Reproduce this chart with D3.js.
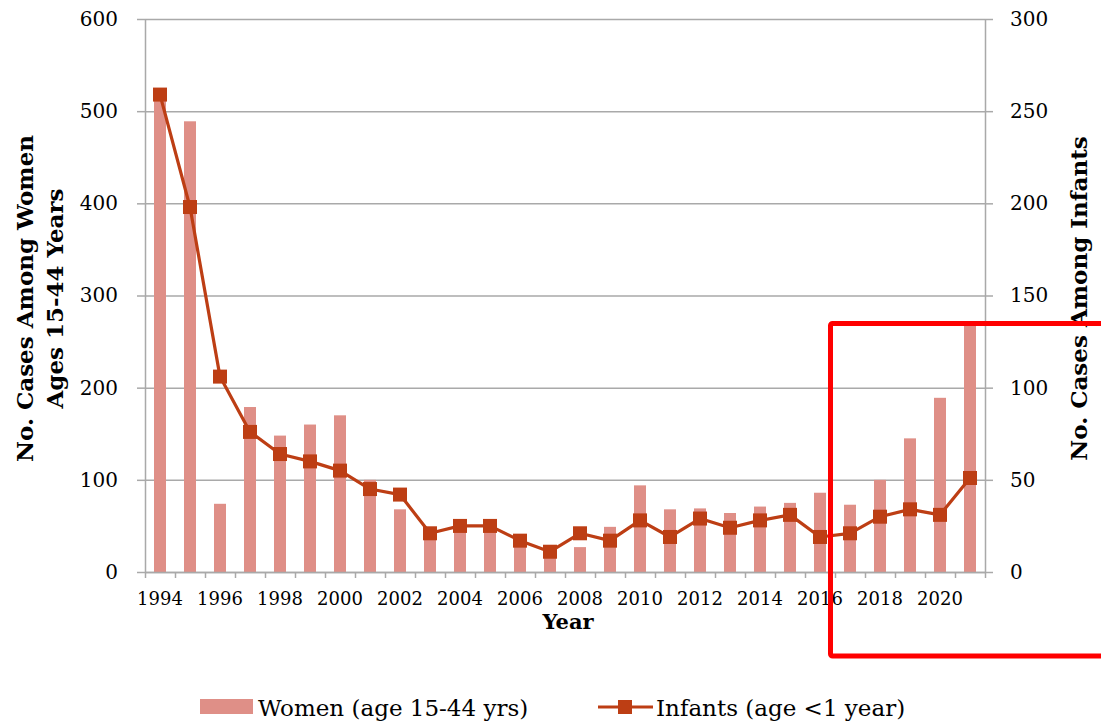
<!DOCTYPE html>
<html>
<head>
<meta charset="utf-8">
<script src="https://cdn.jsdelivr.net/npm/d3@7.9.0/dist/d3.min.js"></script>
<style>
  body { margin: 0; background: #fff; }
  svg { display: block; }
  .serif { font-family: "DejaVu Serif", serif; }
</style>
</head>
<body>
<div id="chart"></div>
<script>
const years = d3.range(1994, 2022).map(String);

// cases among women 15-44 (left axis)
const women = [515, 489, 74, 179, 148, 160, 170, 100, 68, 48,
  50, 50, 29, 18, 27, 49, 94, 68, 69, 64,
  71, 75, 86, 73, 100, 145, 189, 270];

// cases among infants <1 year (right axis)
const infants = [259, 198, 106, 76, 64, 60, 55, 45, 42, 21,
  25, 25, 17, 11, 21, 17, 28, 19, 29, 24,
  28, 31, 19, 21, 30, 34, 31, 51];

const leftTicks = [0, 100, 200, 300, 400, 500, 600];
const rightTicks = [0, 50, 100, 150, 200, 250, 300];
const yearLabels = years.filter((d, i) => i % 2 === 0);

const seriesNames = ['Women (age 15-44 yrs)', 'Infants (age <1 year)'];
const leftTitle = ['No. Cases Among Women', 'Ages 15-44 Years'];
const rightTitle = 'No. Cases Among Infants';
const xTitle = 'Year';

const barColor = '#df8f87';
const lineColor = '#bd3e14';
const gridColor = '#a9a9a9';

const width = 1101;
const height = 723;
const margin = { top: 19, right: 116, bottom: 151, left: 145 };

const usableArea = {
  top: margin.top,
  right: width - margin.right,
  bottom: height - margin.bottom,
  left: margin.left,
};

const svg = d3
  .select('#chart')
  .append('svg')
  .attr('width', width)
  .attr('height', height);

svg.append('rect').attr('width', width).attr('height', height).attr('fill', '#fff');

const xScale = d3.scaleBand().domain(years).range([usableArea.left, usableArea.right]);
// same range, used only for tick marks on the band edges
const xEdge = d3.scaleLinear().domain([1994, 2022]).range([usableArea.left, usableArea.right]);
const yLeft = d3.scaleLinear().domain([0, 600]).range([usableArea.bottom, usableArea.top]);
const yRight = d3.scaleLinear().domain([0, 300]).range([usableArea.bottom, usableArea.top]);

// gridlines
svg
  .append('g')
  .attr('class', 'gridlines')
  .attr('transform', `translate(${usableArea.left}, 0)`)
  .call(d3.axisLeft(yLeft).tickValues(leftTicks).tickSize(-(usableArea.right - usableArea.left)).tickFormat(''))
  .call((g) => g.select('.domain').remove())
  .call((g) => g.selectAll('line').attr('stroke', gridColor).attr('stroke-width', 1.5));

// bars
const barW = xScale.bandwidth() * 0.4;
svg
  .append('g')
  .attr('class', 'bars')
  .selectAll('rect')
  .data(years)
  .join('rect')
  .attr('x', (d) => xScale(d) + xScale.bandwidth() / 2 - barW / 2)
  .attr('y', (d, i) => yLeft(women[i]))
  .attr('width', barW)
  .attr('height', (d, i) => yLeft(0) - yLeft(women[i]))
  .attr('fill', barColor);

// axes
function styleAxis(g) {
  g.select('.domain').attr('stroke', gridColor).attr('stroke-width', 1.5);
  g.selectAll('.tick line').attr('stroke', gridColor).attr('stroke-width', 1.5);
  g.selectAll('text').attr('fill', '#000').attr('font-family', '"DejaVu Serif", serif');
}

svg
  .append('g')
  .attr('transform', `translate(${usableArea.left}, 0)`)
  .call(d3.axisLeft(yLeft).tickValues(leftTicks).tickSize(8).tickSizeOuter(0).tickPadding(19))
  .call(styleAxis)
  .call((g) => g.selectAll('text').attr('font-size', 20));

svg
  .append('g')
  .attr('transform', `translate(${usableArea.right}, 0)`)
  .call(d3.axisRight(yRight).tickValues(rightTicks).tickSize(8).tickSizeOuter(0).tickPadding(17))
  .call(styleAxis)
  .call((g) => g.selectAll('text').attr('font-size', 20));

svg
  .append('g')
  .attr('transform', `translate(0, ${usableArea.bottom})`)
  .call(d3.axisBottom(xEdge).tickValues(d3.range(1994, 2023)).tickSize(6).tickSizeOuter(0).tickFormat(''))
  .call(styleAxis);

svg
  .append('g')
  .attr('transform', `translate(0, ${usableArea.bottom})`)
  .call(d3.axisBottom(xScale).tickValues(yearLabels).tickSize(0).tickPadding(20))
  .call((g) => g.select('.domain').remove())
  .call(styleAxis)
  .call((g) => g.selectAll('text').attr('font-size', 18));

// infants line
const line = d3
  .line()
  .x((d, i) => xScale(years[i]) + xScale.bandwidth() / 2)
  .y((d) => yRight(d));

svg
  .append('path')
  .datum(infants)
  .attr('d', line)
  .attr('fill', 'none')
  .attr('stroke', lineColor)
  .attr('stroke-width', 3.2)
  .attr('stroke-linejoin', 'round');

const mk = 14;
svg
  .append('g')
  .attr('class', 'markers')
  .selectAll('rect')
  .data(infants)
  .join('rect')
  .attr('x', (d, i) => xScale(years[i]) + xScale.bandwidth() / 2 - mk / 2)
  .attr('y', (d) => yRight(d) - mk / 2)
  .attr('width', mk)
  .attr('height', mk)
  .attr('fill', lineColor);

// titles
svg
  .append('text')
  .attr('class', 'serif')
  .attr('x', (usableArea.left + usableArea.right) / 2 + 3)
  .attr('y', 629)
  .attr('text-anchor', 'middle')
  .attr('font-size', 21)
  .attr('font-weight', 'bold')
  .text(xTitle);

const midY = (usableArea.top + usableArea.bottom) / 2 + 3;
leftTitle.forEach((t, i) => {
  svg
    .append('text')
    .attr('class', 'serif')
    .attr('transform', `translate(${33 + i * 30}, ${midY}) rotate(-90)`)
    .attr('text-anchor', 'middle')
    .attr('font-size', 23)
    .attr('font-weight', 'bold')
    .text(t);
});

svg
  .append('text')
  .attr('class', 'serif')
  .attr('transform', `translate(1087, ${midY}) rotate(-90)`)
  .attr('text-anchor', 'middle')
  .attr('font-size', 23)
  .attr('font-weight', 'bold')
  .text(rightTitle);

// legend
const legend = svg.append('g').attr('class', 'legend');
legend.append('rect').attr('x', 200).attr('y', 699).attr('width', 53).attr('height', 15).attr('fill', barColor);
legend
  .append('text')
  .attr('class', 'serif')
  .attr('x', 258)
  .attr('y', 716)
  .attr('font-size', 23)
  .text(seriesNames[0]);
legend
  .append('line')
  .attr('x1', 598).attr('x2', 653).attr('y1', 707).attr('y2', 707)
  .attr('stroke', lineColor).attr('stroke-width', 3.2);
legend
  .append('rect')
  .attr('x', 625 - mk / 2).attr('y', 707 - mk / 2)
  .attr('width', mk).attr('height', mk)
  .attr('fill', lineColor);
legend
  .append('text')
  .attr('class', 'serif')
  .attr('x', 656)
  .attr('y', 716)
  .attr('font-size', 23)
  .text(seriesNames[1]);

// red highlight box drawn over the chart
svg
  .append('rect')
  .attr('x', 830.5)
  .attr('y', 323.5)
  .attr('width', 300)
  .attr('height', 332.5)
  .attr('rx', 2)
  .attr('fill', 'none')
  .attr('stroke', '#ff0000')
  .attr('stroke-width', 5);
</script>
</body>
</html>
